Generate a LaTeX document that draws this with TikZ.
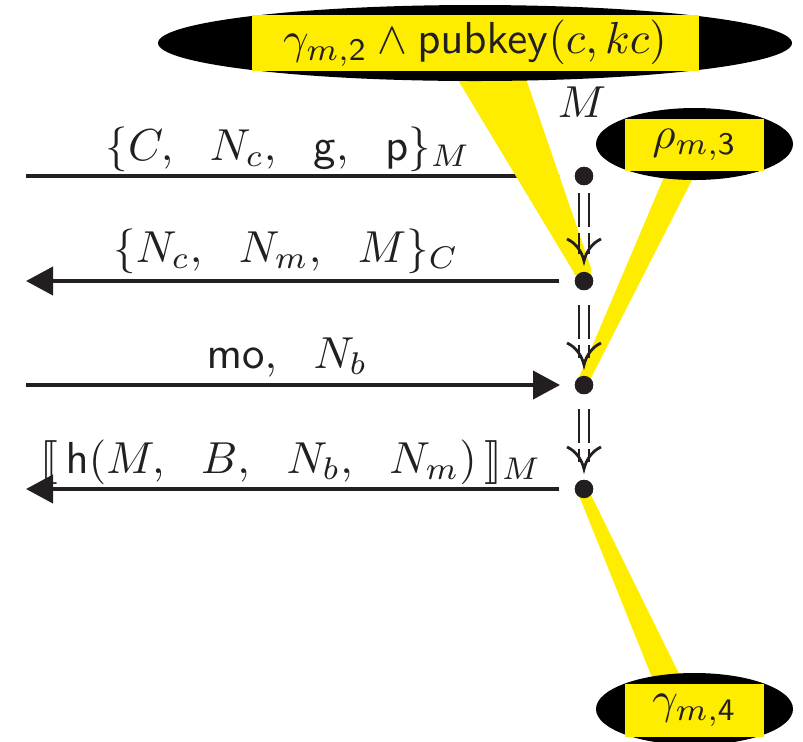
\documentclass[tikz,border=0pt]{standalone}
\usepackage{fix-cm}
\usepackage{stmaryrd}
\usetikzlibrary{arrows.meta,calc,shapes.geometric}
\definecolor{hl}{RGB}{255,237,0}
\definecolor{ink}{RGB}{35,31,32}
\begin{document}
\begin{tikzpicture}[x=0.25pt,y=-0.25pt,
  font=\fontsize{11.2}{13.4}\selectfont,
  msg/.style={line width=1pt, draw=ink, -{Triangle[length=6.75pt,width=7pt]}},
  dot/.style={circle, fill=ink, inner sep=0pt, minimum size=4.6pt},
  impl/.style={line width=0.7pt, draw=ink, dash pattern=on 8.5pt off 1.4pt},
  chev/.style={line width=0.7pt, draw=ink},
  blob/.style={ellipse, fill=black, inner sep=0pt},
  ybox/.style={rectangle, fill=hl, inner sep=0pt, text=ink},
  lab/.style={anchor=base, text=ink, inner sep=0pt},
  wedge/.style={fill=hl}]
\useasboundingbox (0,0) rectangle (803,741);
% process points
\node[dot] (d1) at (584,176) {};
\node[dot] (d2) at (584,281) {};
\node[dot] (d3) at (584,385) {};
\node[dot] (d4) at (584,489) {};
\coordinate (s1) at (26,176);
\coordinate (e2) at (26,281);
\coordinate (s3) at (26,385);
\coordinate (e4) at (26,489);
\node[lab] (M) at (582,117) {$M$};
% messages
\draw[msg, shorten >=3.5pt] (s1) -- (d1);
\draw[msg, shorten <=3.75pt] (d2) -- (e2);
\draw[msg, shorten >=3.5pt] (s3) -- (d3);
\draw[msg, shorten <=3.75pt] (d4) -- (e4);
\node[lab] (l1) at (288,160) {$\{C,\ \ N_c,\ \ \mathsf{g},\ \ \mathsf{p}\}_M$};
\node[lab] (l2) at (286,262) {$\{N_c,\ \ N_m,\ \ M\}_C$};
\node[lab] (l3) at (287,368) {$\mathsf{mo},\ \ N_b$};
\node[lab] (l4) at (291,473) {$\llbracket\,\mathsf{h}(M,\ \ B,\ \ N_b,\ \ N_m)\,\rrbracket_M$};
% callout pointers
\fill[wedge] (452,70) -- (523,70) -- (591,268) .. controls (594,279) and (576,283) .. (573,271) -- cycle;
\fill[wedge] (667,170) -- (697,170) -- (591,378) .. controls (587,385) and (577,383) .. (580,375) -- cycle;
\fill[wedge] (657,690) -- (687,690) -- (591,495) .. controls (588,489) and (579,490) .. (580,498) -- cycle;
% implications
\foreach \a/\b/\t in {d1/d2/17,d2/d3/24,d3/d4/24}{
  \draw[impl] ($(\a)+(-5,\t)$) -- ($(\b)+(-5,-27)$);
  \draw[impl] ($(\a)+(5,\t)$) -- ($(\b)+(5,-27)$);
  \draw[chev] ($(\b)+(-17,-42)$) .. controls ($(\b)+(-8,-38)$) and ($(\b)+(-2,-29)$) .. ($(\b)+(0,-20)$)
              .. controls ($(\b)+(2,-29)$) and ($(\b)+(8,-38)$) .. ($(\b)+(17,-42)$);
}
\node[dot] at (d1) {};
\node[dot] at (d2) {};
\node[dot] at (d3) {};
\node[dot] at (d4) {};
% callouts
\node[blob, minimum width=158.5pt, minimum height=19pt] (c1) at (475,43) {};
\node[ybox, minimum width=111.75pt, minimum height=14pt] (t1) at (475,43) {$\gamma_{m,\mathsf{2}}\wedge\mathsf{pubkey}(c,kc)$};
\node[blob, minimum width=49.25pt, minimum height=18pt] (c2) at (694.5,144) {};
\node[ybox, minimum width=34.75pt, minimum height=13pt] (t2) at (694.5,145) {$\rho_{m,\mathsf{3}}$};
\node[blob, minimum width=49.25pt, minimum height=18pt] (c3) at (694.5,709) {};
\node[ybox, minimum width=34.75pt, minimum height=13.25pt] (t3) at (694.5,710.5) {$\gamma_{m,\mathsf{4}}$};
\end{tikzpicture}
\end{document}
